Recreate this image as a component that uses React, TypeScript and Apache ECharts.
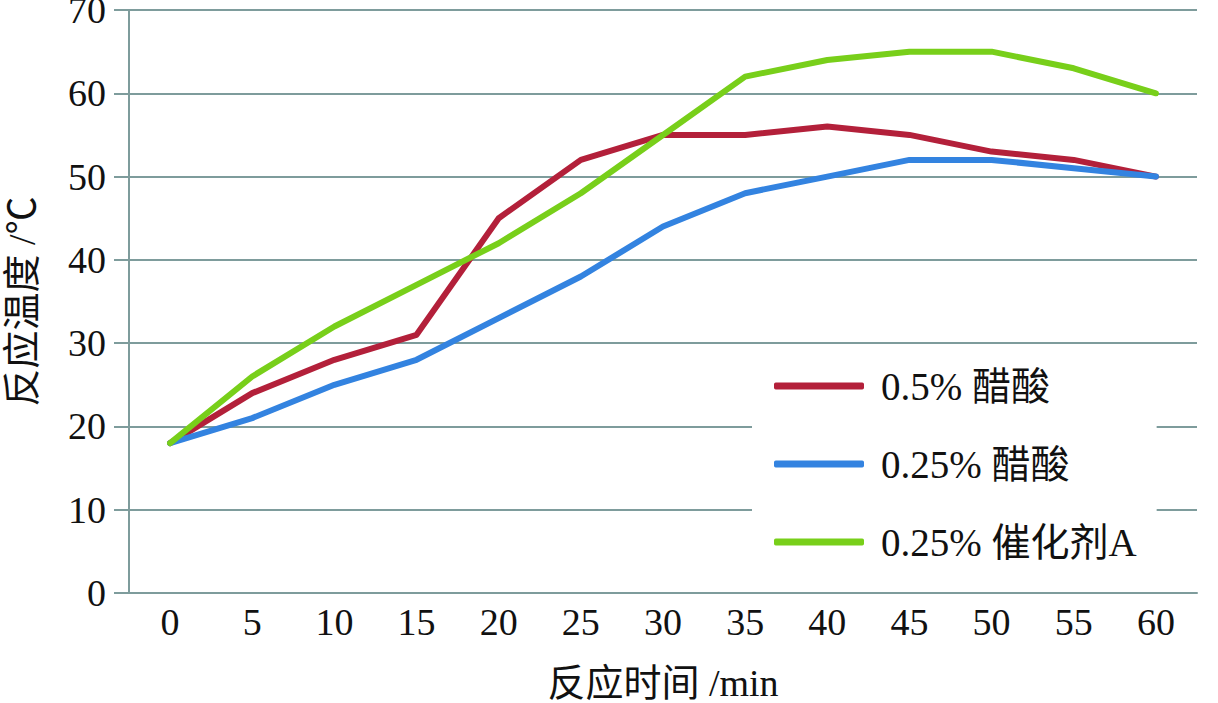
import React, { useEffect, useRef } from "react";
import * as echarts from "echarts";

const categories = ["0", "5", "10", "15", "20", "25", "30", "35", "40", "45", "50", "55", "60"];
const seriesNames = ["0.5% 醋酸", "0.25% 醋酸", "0.25% 催化剂A"];
const acid05 = [18, 24, 28, 31, 45, 52, 55, 55, 56, 55, 53, 52, 50];
const acid025 = [18, 21, 25, 28, 33, 38, 44, 48, 50, 52, 52, 51, 50];
const catalystA = [18, 26, 32, 37, 42, 48, 55, 62, 64, 65, 65, 63, 60];
const colors = ["#b3203a", "#3383e0", "#78cf1a"];

const FONT = "'Liberation Serif', 'Noto Sans CJK SC', serif";
const GRID = "#7e9c9c";

export default function App() {
  const ref = useRef<HTMLDivElement>(null);
  useEffect(() => {
    if (!ref.current) return;
    const chart = echarts.init(ref.current, undefined, { renderer: "svg" });
    const mk = (name: string, data: number[], color: string) => ({
      name,
      type: "line",
      data,
      showSymbol: false,
      symbol: "none",
      lineStyle: { color, width: 6, cap: "round", join: "round" },
      itemStyle: { color },
      z: 3,
    });
    chart.setOption({
      animation: false,
      backgroundColor: "#ffffff",
      textStyle: { fontFamily: FONT },
      grid: { left: 129, right: 21, top: 10, bottom: 110, containLabel: false, outerBoundsMode: "none" },
      legend: {
        orient: "vertical",
        left: 752,
        top: 350,
        backgroundColor: "#ffffff",
        padding: [16, 20, 16, 22],
        itemWidth: 90,
        itemHeight: 7,
        itemGap: 38,
        icon: "roundRect",
        data: seriesNames,
        textStyle: { fontFamily: FONT, fontSize: 39, color: "#111", padding: [0, 0, 0, 12], lineHeight: 40 },
        z: 10,
      },
      xAxis: {
        type: "category",
        data: categories,
        boundaryGap: true,
        name: "反应时间 /min",
        nameLocation: "middle",
        nameGap: 71,
        nameTextStyle: { fontFamily: FONT, fontSize: 38, color: "#111" },
        axisLine: { lineStyle: { color: GRID, width: 2 } },
        axisTick: { show: false },
        axisLabel: { fontFamily: FONT, fontSize: 38, color: "#111", margin: 10 },
        splitLine: { show: false },
      },
      yAxis: {
        type: "value",
        min: 0,
        max: 70,
        interval: 10,
        name: "反应温度 /℃",
        nameLocation: "middle",
        nameGap: 88,
        nameRotate: 90,
        nameTextStyle: { fontFamily: FONT, fontSize: 38, color: "#111" },
        axisLine: { show: true, lineStyle: { color: GRID, width: 2 } },
        axisTick: { show: true, length: 15, lineStyle: { color: GRID, width: 2 } },
        axisLabel: { fontFamily: FONT, fontSize: 38, color: "#111", margin: 23 },
        splitLine: { show: true, lineStyle: { color: GRID, width: 2 } },
      },
      series: [
        mk(seriesNames[0], acid05, colors[0]),
        mk(seriesNames[1], acid025, colors[1]),
        mk(seriesNames[2], catalystA, colors[2]),
      ],
    });
    return () => chart.dispose();
  }, []);
  return (
    <div
      ref={ref}
      style={{ position: "fixed", left: 0, top: 0, width: 1218, height: 703, background: "#fff" }}
    />
  );
}
